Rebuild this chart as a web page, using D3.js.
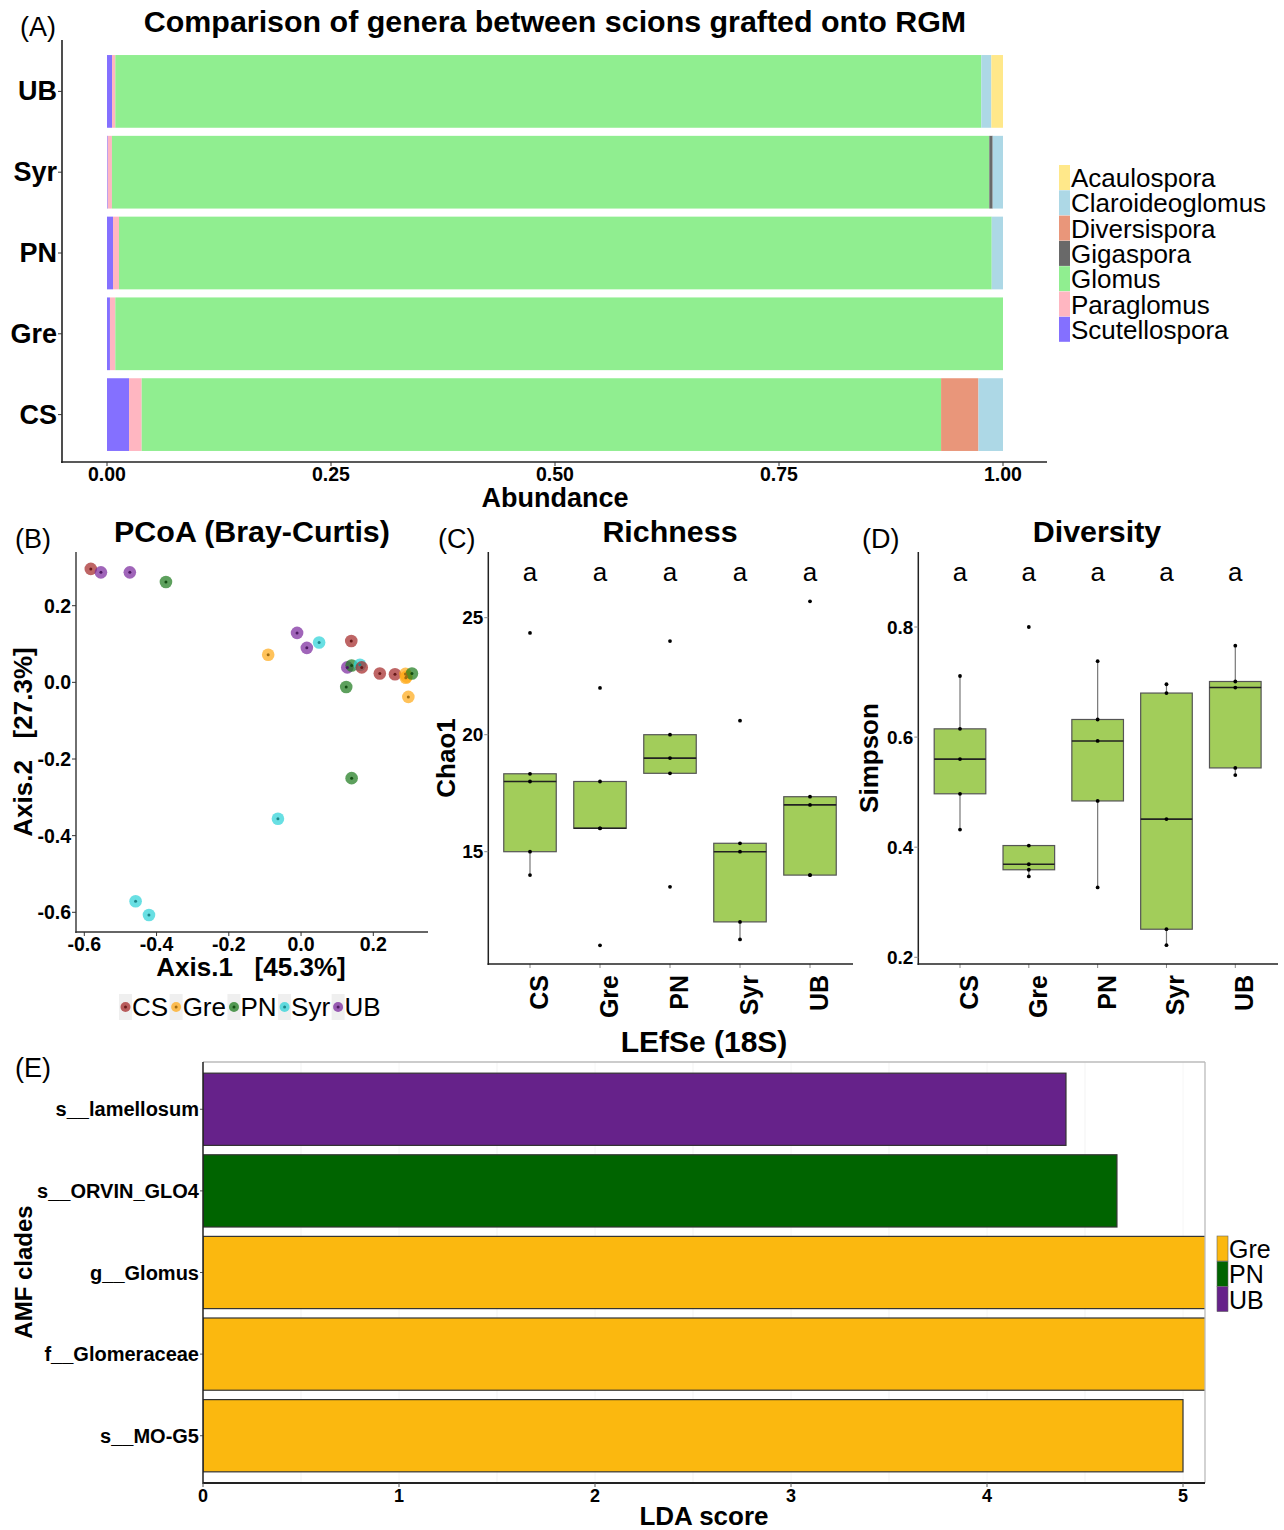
<!DOCTYPE html>
<html><head><meta charset="utf-8">
<script src="https://cdn.jsdelivr.net/npm/d3@7"></script>
<style>body{margin:0;background:#fff}svg{display:block}text{font-family:"Liberation Sans",Arial,sans-serif;white-space:pre}</style>
</head><body><svg id="c" width="1284" height="1530"></svg>
<script>
// ---------- DATA ----------
const scions = ["UB","Syr","PN","Gre","CS"];
const genera = ["Scutellospora","Paraglomus","Glomus","Gigaspora","Diversispora","Claroideoglomus","Acaulospora"];
const legendGenera = ["Acaulospora","Claroideoglomus","Diversispora","Gigaspora","Glomus","Paraglomus","Scutellospora"];
const generaColors = ["#8470FF","#FFB6C1","#90EE90","#696969","#E9967A","#ADD8E6","#FFE88A"];
// abundance per scion, in the order of `genera`
const abUB  = [0.0056,0.0037,0.9665,0,0,0.0112,0.0130];
const abSyr = [0.0008,0.0047,0.9792,0.0038,0,0.0115,0];
const abPN  = [0.0067,0.0067,0.9740,0,0,0.0126,0];
const abGre = [0.0033,0.0060,0.9907,0,0,0,0];
const abCS  = [0.0246,0.0141,0.8922,0,0.0417,0.0274,0];
const abTicks = [0,0.25,0.5,0.75,1];

const groups = ["CS","Gre","PN","Syr","UB"];
const groupColors = ["#A52A2A","#FFAA1A","#1E7B1E","#2ED3D8","#7B2A9E"];
// PCoA coordinates
const pcoaGroup = ["CS","UB","UB","PN","UB","Syr","CS","Gre","UB","UB","PN","Syr","CS","CS","CS","Gre","Gre","Gre","PN","Gre","PN","PN","Syr","Syr","Syr"];
const pcoaX = [-0.582,-0.554,-0.474,-0.374,-0.011,0.050,0.139,-0.091,0.016,0.128,0.140,0.163,0.168,0.218,0.260,0.289,0.290,0.292,0.307,0.297,0.125,0.140,-0.064,-0.458,-0.421];
const pcoaY = [0.296,0.287,0.287,0.262,0.129,0.104,0.108,0.072,0.090,0.039,0.044,0.046,0.039,0.023,0.021,0.022,0.012,0.015,0.023,-0.038,-0.012,-0.250,-0.356,-0.571,-0.607];
const pcoaXTicks = [-0.6,-0.4,-0.2,0.0,0.2];
const pcoaYTicks = [0.2,0.0,-0.2,-0.4,-0.6];

// Chao1 richness
const chaoCS  = [24.35,18.33,18.0,15.0,14.0];
const chaoGre = [22.0,18.0,16.0,16.0,11.0];
const chaoPN  = [24.0,20.0,19.0,18.35,13.5];
const chaoSyr = [20.6,15.36,15.0,12.0,11.25];
const chaoUB  = [25.7,17.35,17.0,14.0,14.0];
const chaoTicks = [15,20,25];
// Simpson diversity
const simCS  = [0.711,0.615,0.560,0.497,0.432];
const simGre = [0.800,0.403,0.369,0.359,0.347];
const simPN  = [0.738,0.632,0.593,0.484,0.327];
const simSyr = [0.696,0.680,0.451,0.251,0.222];
const simUB  = [0.766,0.701,0.690,0.544,0.531];
const simTicks = [0.2,0.4,0.6,0.8];

// LEfSe
const clades = ["s__lamellosum","s__ORVIN_GLO4","g__Glomus","f__Glomeraceae","s__MO-G5"];
const ldaScore = [4.403,4.663,5.14,5.14,5.0];
const cladeGroup = ["UB","PN","Gre","Gre","Gre"];
const ldaGroups = ["Gre","PN","UB"];
const ldaColors = ["#FBB80F","#006400","#66228A"];
const ldaTicks = [0,1,2,3,4,5];

// ---------- DRAW ----------
const svg = d3.select("#c");
function txt(g,x,y,s,size,opt={}){
  const t=g.append("text").attr("x",x).attr("y",y).text(s).attr("font-size",size)
   .attr("font-weight",opt.bold?"bold":"normal").attr("text-anchor",opt.anchor||"start")
   .attr("dominant-baseline",opt.base||"auto").attr("fill",opt.fill||"#000");
  if(opt.rot!=null) t.attr("transform",`rotate(${opt.rot},${x},${y})`);
  return t;
}

// ===== Panel A =====
(function(){
  const g=svg.append("g");
  const x=d3.scaleLinear().domain([0,1]).range([107,1003]);
  const y=d3.scaleBand().domain(scions).range([51,455]).paddingInner(0.1).paddingOuter(0.05);
  const data={UB:abUB,Syr:abSyr,PN:abPN,Gre:abGre,CS:abCS};
  const col=d3.scaleOrdinal().domain(genera).range(generaColors);
  scions.forEach(s=>{
    let cum=0;
    data[s].forEach((v,i)=>{
      if(v>0){
        g.append("rect").attr("x",x(cum)).attr("width",x(cum+v)-x(cum)).attr("y",y(s)).attr("height",y.bandwidth()).attr("fill",col(genera[i]));
      }
      cum+=v;
    });
  });
  g.append("line").attr("x1",62).attr("x2",62).attr("y1",40).attr("y2",463).attr("stroke","#222").attr("stroke-width",1.6);
  g.append("line").attr("x1",61).attr("x2",1047).attr("y1",462).attr("y2",462).attr("stroke","#222").attr("stroke-width",1.6);
  scions.forEach(s=>{
    const cy=y(s)+y.bandwidth()/2;
    g.append("line").attr("x1",58).attr("x2",62).attr("y1",cy).attr("y2",cy).attr("stroke","#333");
    txt(g,57,cy,s,27,{bold:true,anchor:"end",base:"central"});
  });
  abTicks.forEach(t=>{
    g.append("line").attr("x1",x(t)).attr("x2",x(t)).attr("y1",462).attr("y2",466).attr("stroke","#333");
    txt(g,x(t),481,d3.format(".2f")(t),19.5,{bold:true,anchor:"middle"});
  });
  txt(g,555,507,"Abundance",27,{bold:true,anchor:"middle"});
  txt(g,555,32,"Comparison of genera between scions grafted onto RGM",30.4,{bold:true,anchor:"middle"});
  txt(g,20,36,"(A)",27);
  legendGenera.forEach((n,i)=>{
    const yy=165+i*25.3;
    g.append("rect").attr("x",1059).attr("y",yy).attr("width",11).attr("height",25).attr("fill",col(n));
    txt(g,1071,yy+13,n,26,{base:"central"});
  });
})();

// ===== Panel B =====
(function(){
  const g=svg.append("g");
  const x=d3.scaleLinear().domain([-0.6,0.2]).range([84.3,373.3]);
  const y=d3.scaleLinear().domain([0.2,-0.6]).range([605.7,912.3]);
  const col=d3.scaleOrdinal().domain(groups).range(groupColors);
  pcoaX.forEach((v,i)=>{
    const c=col(pcoaGroup[i]);
    g.append("circle").attr("cx",x(v)).attr("cy",y(pcoaY[i])).attr("r",6.3).attr("fill",c).attr("fill-opacity",0.72);
  });
  pcoaX.forEach((v,i)=>{
    const c=d3.color(col(pcoaGroup[i])).darker(1.3);
    g.append("circle").attr("cx",x(v)).attr("cy",y(pcoaY[i])).attr("r",1.5).attr("fill",c);
  });
  g.append("line").attr("x1",76).attr("x2",76).attr("y1",552).attr("y2",933).attr("stroke","#333").attr("stroke-width",1.4);
  g.append("line").attr("x1",75.3).attr("x2",428).attr("y1",932).attr("y2",932).attr("stroke","#333").attr("stroke-width",1.4);
  pcoaXTicks.forEach(t=>{
    g.append("line").attr("x1",x(t)).attr("x2",x(t)).attr("y1",932).attr("y2",936).attr("stroke","#333");
    txt(g,x(t),951,d3.format(".1f")(t).replace("−","-"),19.5,{bold:true,anchor:"middle"});
  });
  pcoaYTicks.forEach(t=>{
    g.append("line").attr("x1",72).attr("x2",76).attr("y1",y(t)).attr("y2",y(t)).attr("stroke","#333");
    txt(g,71,y(t),d3.format(".1f")(t).replace("−","-"),19.5,{bold:true,anchor:"end",base:"central"});
  });
  txt(g,252,542,"PCoA (Bray-Curtis)",30.4,{bold:true,anchor:"middle"});
  txt(g,15,548,"(B)",27);
  txt(g,251,976,"Axis.1   [45.3%]",26,{bold:true,anchor:"middle"});
  txt(g,32,742,"Axis.2   [27.3%]",26,{bold:true,anchor:"middle",rot:-90});
  // legend
  let lx=119;
  groups.forEach((n,i)=>{
    g.append("rect").attr("x",lx).attr("y",994).attr("width",13).attr("height",26).attr("fill","#EFEFEF");
    g.append("circle").attr("cx",lx+6.5).attr("cy",1007).attr("r",5).attr("fill",col(n)).attr("fill-opacity",0.75);
    g.append("circle").attr("cx",lx+6.5).attr("cy",1007).attr("r",1.5).attr("fill",d3.color(col(n)).darker(1.3));
    const t=txt(g,lx+13,1016,n,26);
    const w=t.node().getComputedTextLength();
    lx+=13+w+1.5;
  });
})();

// ===== Box panels =====
function boxPanel(opts){
  const g=svg.append("g");
  const x=d3.scalePoint().domain(groups).range(opts.xr);
  const step=x.step();
  const y=d3.scaleLinear().domain(opts.yd).range(opts.yr);
  groups.forEach((gname,i)=>{
    const vals=opts.data[i].slice().sort(d3.ascending);
    const q1=d3.quantile(vals,0.25),med=d3.quantile(vals,0.5),q3=d3.quantile(vals,0.75);
    const iqr=q3-q1;
    const lo=d3.min(vals.filter(v=>v>=q1-1.5*iqr)),hi=d3.max(vals.filter(v=>v<=q3+1.5*iqr));
    const cx=x(gname),bw=step*0.75;
    if(hi>q3) g.append("line").attr("x1",cx).attr("x2",cx).attr("y1",y(hi)).attr("y2",y(q3)).attr("stroke","#777").attr("stroke-width",1.2);
    if(lo<q1) g.append("line").attr("x1",cx).attr("x2",cx).attr("y1",y(lo)).attr("y2",y(q1)).attr("stroke","#777").attr("stroke-width",1.2);
    g.append("rect").attr("x",cx-bw/2).attr("width",bw).attr("y",y(q3)).attr("height",y(q1)-y(q3))
      .attr("fill","#A2CD5A").attr("stroke","#555").attr("stroke-width",1.2);
    g.append("line").attr("x1",cx-bw/2).attr("x2",cx+bw/2).attr("y1",y(med)).attr("y2",y(med)).attr("stroke","#222").attr("stroke-width",1.6);
    vals.forEach(v=>g.append("circle").attr("cx",cx).attr("cy",y(v)).attr("r",1.9).attr("fill","#000"));
    txt(g,cx,581,"a",26,{anchor:"middle"});
    g.append("line").attr("x1",cx).attr("x2",cx).attr("y1",opts.bottom).attr("y2",opts.bottom+4).attr("stroke","#888");
    txt(g,cx+18,opts.bottom+11,gname,25,{bold:true,anchor:"end",rot:-90});
  });
  g.append("line").attr("x1",opts.left).attr("x2",opts.left).attr("y1",552).attr("y2",opts.bottom+1).attr("stroke","#222").attr("stroke-width",1.5);
  g.append("line").attr("x1",opts.left-0.7).attr("x2",opts.right).attr("y1",opts.bottom).attr("y2",opts.bottom).attr("stroke","#222").attr("stroke-width",1.5);
  opts.ticks.forEach(t=>{
    g.append("line").attr("x1",opts.left-4).attr("x2",opts.left).attr("y1",y(t)).attr("y2",y(t)).attr("stroke","#888");
    txt(g,opts.left-5,y(t),opts.fmt(t),19,{bold:true,anchor:"end",base:"central"});
  });
  txt(g,opts.titleX,542,opts.title,30.4,{bold:true,anchor:"middle"});
  txt(g,opts.tagX,548,opts.tag,27);
  txt(g,opts.ylabX,758,opts.ylab,26,{bold:true,anchor:"middle",rot:-90});
}
boxPanel({data:[chaoCS,chaoGre,chaoPN,chaoSyr,chaoUB],xr:[530,810],yd:[15,25],yr:[851.7,617.7],
  left:488.3,right:853,bottom:964,ticks:chaoTicks,fmt:d3.format("d"),title:"Richness",titleX:670,tag:"(C)",tagX:438,ylab:"Chao1",ylabX:455});
boxPanel({data:[simCS,simGre,simPN,simSyr,simUB],xr:[960,1235.3],yd:[0.2,0.8],yr:[957.3,627],
  left:918.3,right:1278,bottom:964,ticks:simTicks,fmt:d3.format(".1f"),title:"Diversity",titleX:1097,tag:"(D)",tagX:862,ylab:"Simpson",ylabX:878});

// ===== Panel E =====
(function(){
  const g=svg.append("g");
  const L=203,R=1205,T=1062,B=1483;
  const x=d3.scaleLinear().domain([0,5]).range([L,1183]);
  const y=d3.scaleBand().domain(clades).range([T+3,B-3]).paddingInner(0.115).paddingOuter(0.1);
  const col=d3.scaleOrdinal().domain(ldaGroups).range(ldaColors);
  [0.5,1.5,2.5,3.5,4.5].forEach(t=>g.append("line").attr("x1",x(t)).attr("x2",x(t)).attr("y1",T).attr("y2",B).attr("stroke","#F3F3F3"));
  ldaTicks.forEach(t=>g.append("line").attr("x1",x(t)).attr("x2",x(t)).attr("y1",T).attr("y2",B).attr("stroke","#F6F6F6"));
  svg.append("defs").append("clipPath").attr("id","clipE").append("rect").attr("x",L).attr("y",T).attr("width",R-L).attr("height",B-T);
  const bars=g.append("g").attr("clip-path","url(#clipE)");
  clades.forEach((c,i)=>{
    bars.append("rect").attr("x",x(0)).attr("y",y(c)).attr("width",x(ldaScore[i])-x(0)).attr("height",y.bandwidth())
      .attr("fill",col(cladeGroup[i])).attr("stroke","#333").attr("stroke-width",1.2);
    g.append("line").attr("x1",L-3).attr("x2",L).attr("y1",y(c)+y.bandwidth()/2).attr("y2",y(c)+y.bandwidth()/2).attr("stroke","#555");
    txt(g,L-4,y(c)+y.bandwidth()/2,c,20,{bold:true,anchor:"end",base:"central"});
  });
  g.append("line").attr("x1",L).attr("x2",R).attr("y1",T).attr("y2",T).attr("stroke","#BBB").attr("stroke-width",1.3);
  g.append("line").attr("x1",R).attr("x2",R).attr("y1",T).attr("y2",B).attr("stroke","#BBB").attr("stroke-width",1.3);
  g.append("line").attr("x1",L).attr("x2",L).attr("y1",T).attr("y2",B+1).attr("stroke","#222").attr("stroke-width",1.5);
  g.append("line").attr("x1",L).attr("x2",R).attr("y1",B).attr("y2",B).attr("stroke","#222").attr("stroke-width",2);
  ldaTicks.forEach(t=>{
    g.append("line").attr("x1",x(t)).attr("x2",x(t)).attr("y1",B).attr("y2",B+4).attr("stroke","#555");
    txt(g,x(t),1502,String(t),18,{bold:true,anchor:"middle"});
  });
  txt(g,704,1052,"LEfSe (18S)",30,{bold:true,anchor:"middle"});
  txt(g,704,1525,"LDA score",26,{bold:true,anchor:"middle"});
  txt(g,32,1272,"AMF clades",24,{bold:true,anchor:"middle",rot:-90});
  txt(g,15,1077,"(E)",27);
  ldaGroups.forEach((n,i)=>{
    const yy=1236+i*25.3;
    g.append("rect").attr("x",1217).attr("y",yy).attr("width",11).attr("height",25).attr("fill",col(n)).attr("stroke","#666").attr("stroke-width",0.6);
    txt(g,1229,yy+13,n,25,{base:"central"});
  });
})();
</script></body></html>
